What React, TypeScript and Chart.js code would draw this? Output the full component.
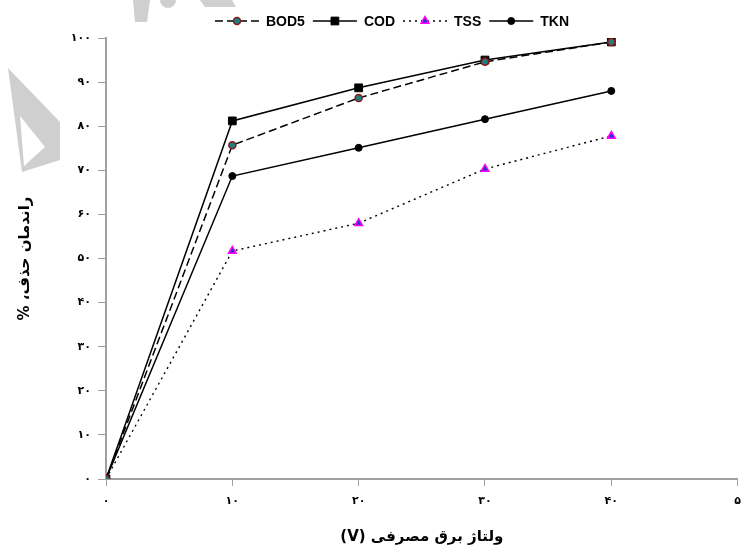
import React, { useEffect, useRef } from "react";
import { Chart, registerables } from "chart.js";
import { drawPoint } from "chart.js/helpers";

Chart.register(...registerables);

const voltages = [0, 10, 20, 30, 40];
const bod5 = [0, 75.7, 86.4, 94.6, 99.1];
const cod = [0, 81.2, 88.7, 95.0, 99.1];
const tss = [0, 51.7, 58.0, 70.3, 77.8];
const tkn = [0, 68.7, 75.1, 81.6, 88.0];

const xTickLabels = ["۰", "۱۰", "۲۰", "۳۰", "۴۰", "۵"];
const yTickLabels = ["۰", "۱۰", "۲۰", "۳۰", "۴۰", "۵۰", "۶۰", "۷۰", "۸۰", "۹۰", "۱۰۰"];
const seriesNames = ["BOD5", "COD", "TSS", "TKN"];
const RLE = "\u202B";
const PDF = "\u202C";
const xTitle = RLE + "ولتاژ برق مصرفی (V)" + PDF;
const yTitle = RLE + "راندمان حذف، %" + PDF;

const pts = (ys: number[]) => voltages.map((x, i) => ({ x, y: ys[i] }));

const styles = [
  { dash: [8, 4], width: 1.5, point: "circle", radius: 3.5, bg: "#1f7f80", border: "#8b1a1a", bw: 1.5 },
  { dash: [], width: 1.5, point: "rect", radius: 5.5, bg: "#000000", border: "#000000", bw: 1 },
  { dash: [2, 4], width: 1.4, point: "triangle", radius: 4.5, bg: "#3030c0", border: "#ff00ff", bw: 1.5 },
  { dash: [], width: 1.5, point: "circle", radius: 3.5, bg: "#000000", border: "#000000", bw: 1 },
];

const watermarkPlugin = {
  id: "watermark",
  beforeDraw(chart: any) {
    const ctx = chart.ctx;
    ctx.save();
    ctx.fillStyle = "#cfcfcf";
    ctx.beginPath();
    ctx.moveTo(8, 68);
    ctx.lineTo(60, 122);
    ctx.lineTo(60, 160);
    ctx.lineTo(22, 172);
    ctx.closePath();
    ctx.moveTo(20, 116);
    ctx.lineTo(24, 166);
    ctx.lineTo(45, 147);
    ctx.closePath();
    ctx.fill("evenodd");
    ctx.beginPath();
    ctx.moveTo(133, 0);
    ctx.lineTo(150, 0);
    ctx.lineTo(147, 22);
    ctx.lineTo(135, 22);
    ctx.closePath();
    ctx.fill();
    ctx.beginPath();
    ctx.arc(168, 0, 8, 0, Math.PI);
    ctx.fill();
    ctx.beginPath();
    ctx.moveTo(200, 0);
    ctx.lineTo(232, 0);
    ctx.lineTo(236, 7);
    ctx.lineTo(205, 7);
    ctx.closePath();
    ctx.fill();
    ctx.restore();
  },
};

const legendPlugin = {
  id: "customLegend",
  afterDraw(chart: any) {
    const ctx = chart.ctx;
    ctx.save();
    ctx.font = "bold 14px 'Liberation Sans', Arial, sans-serif";
    ctx.textBaseline = "middle";
    ctx.textAlign = "left";
    const lineLen = 44;
    const gapText = 7;
    const gapItem = 8;
    const widths = seriesNames.map((n) => ctx.measureText(n).width);
    const total = widths.reduce((a, w) => a + lineLen + gapText + w, 0) + gapItem * (seriesNames.length - 1);
    let x = 392 - total / 2;
    const y = 21;
    chart.data.datasets.forEach((ds: any, i: number) => {
      const st = styles[i];
      ctx.strokeStyle = "#000";
      ctx.lineWidth = st.width;
      ctx.setLineDash(st.dash);
      ctx.beginPath();
      ctx.moveTo(x, y);
      ctx.lineTo(x + lineLen, y);
      ctx.stroke();
      ctx.setLineDash([]);
      ctx.fillStyle = st.bg;
      ctx.strokeStyle = st.border;
      ctx.lineWidth = st.bw;
      drawPoint(ctx, {
        pointStyle: st.point,
        radius: st.radius,
        borderWidth: st.bw,
        rotation: 0,
      } as any, x + lineLen / 2, y);
      ctx.fillStyle = "#000";
      ctx.fillText(ds.label, x + lineLen + gapText, y + 1);
      x += lineLen + gapText + widths[i] + gapItem;
    });
    ctx.restore();
  },
};

export default function App() {
  const ref = useRef<HTMLCanvasElement>(null);
  useEffect(() => {
    document.body.style.margin = "0";
    const canvas = ref.current!;
    const data = [bod5, cod, tss, tkn];
    const chart = new Chart(canvas, {
      type: "line",
      data: {
        datasets: data.map((d, i) => ({
          label: seriesNames[i],
          data: pts(d),
          borderColor: "#000",
          borderWidth: styles[i].width,
          borderDash: styles[i].dash,
          tension: 0,
          fill: false,
          pointStyle: styles[i].point as any,
          pointRadius: styles[i].radius,
          pointBackgroundColor: styles[i].bg,
          pointBorderColor: styles[i].border,
          pointBorderWidth: styles[i].bw,
        })),
      },
      options: {
        animation: false,
        responsive: false,
        maintainAspectRatio: false,
        layout: { padding: { top: 38, right: 7, left: 0, bottom: 0 } },
        plugins: { legend: { display: false }, tooltip: { enabled: false } },
        scales: {
          x: {
            type: "linear",
            min: 0,
            max: 50,
            grid: { drawOnChartArea: false, drawTicks: true, tickLength: 7, color: "#a0a0a0", lineWidth: 1 },
            border: { color: "#a0a0a0", width: 2 },
            ticks: {
              stepSize: 10,
              autoSkip: false,
              maxRotation: 0,
              padding: 9,
              color: "#000",
              font: { family: "'DejaVu Sans', sans-serif", size: 11, weight: "bold" },
              callback: (v: any, i: number) => xTickLabels[i],
            },
            title: {
              display: true,
              text: xTitle,
              color: "#000",
              font: { family: "'DejaVu Sans', sans-serif", size: 15, weight: "bold" },
              padding: 5,
            },
            afterFit: (s: any) => {
              s.height = 72;
            },
          },
          y: {
            min: 0,
            max: 100,
            grid: { drawOnChartArea: false, drawTicks: true, tickLength: 8, color: "#a0a0a0", lineWidth: 1 },
            border: { color: "#a0a0a0", width: 2 },
            ticks: {
              stepSize: 10,
              padding: 7,
              color: "#000",
              font: { family: "'DejaVu Sans', sans-serif", size: 11, weight: "bold" },
              callback: (v: any, i: number) => yTickLabels[i],
            },
            title: {
              display: true,
              text: yTitle,
              color: "#000",
              font: { family: "'DejaVu Sans', sans-serif", size: 15, weight: "bold" },
              padding: 16,
            },
            afterFit: (s: any) => {
              s.width = 106;
            },
          },
        },
      },
      plugins: [watermarkPlugin, legendPlugin],
    });
    return () => chart.destroy();
  }, []);
  return (
    <div style={{ width: 750, height: 551 }}>
      <canvas ref={ref} width={750} height={551} style={{ display: "block" }} />
    </div>
  );
}
